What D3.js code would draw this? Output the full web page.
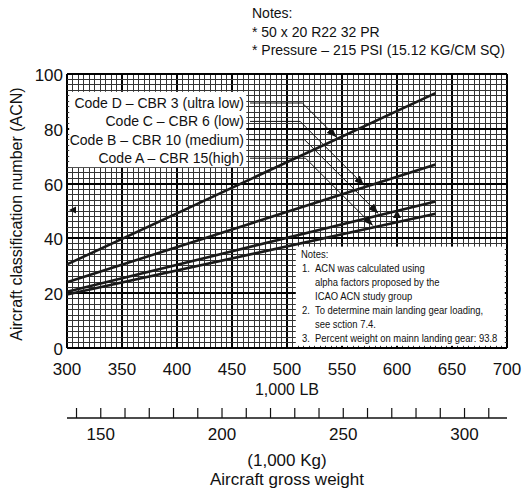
<!DOCTYPE html>
<html>
<head>
<meta charset="utf-8">
<script src="https://cdn.jsdelivr.net/npm/d3@7"></script>
<style>
  html, body { margin: 0; padding: 0; background: #fff; }
  svg { display: block; font-family: "Liberation Sans", Arial, sans-serif; }
</style>
</head>
<body>
<div id="chart"></div>
<script>
(function() {
    'use strict';

    // ---- data ----
    var weightLb = [300, 635];
    var acnCodeA = [19.5, 49];
    var acnCodeB = [20.5, 53.5];
    var acnCodeC = [24, 67];
    var acnCodeD = [30.5, 93];

    var lbTicks = [300, 350, 400, 450, 500, 550, 600, 650, 700];
    var acnTicks = [0, 20, 40, 60, 80, 100];
    var kgTicks = [140, 150, 160, 170, 180, 190, 200, 210, 220, 230, 240, 250, 260, 270, 280, 290, 300, 310];
    var kgLabels = [150, 200, 250, 300];

    var legendLabels = [
        'Code D \u2013 CBR 3 (ultra low)',
        'Code C \u2013 CBR 6 (low)',
        'Code B \u2013 CBR 10 (medium)',
        'Code A \u2013 CBR 15(high)'
    ];
    var legendTargetLb = [545, 570, 583, 578];

    var topNotes = ['Notes:', '* 50 x 20 R22 32 PR', '* Pressure \u2013 215 PSI (15.12 KG/CM SQ)'];
    var boxNotes = [
        ['', 'Notes:'],
        ['1.', 'ACN was calculated using'],
        ['', 'alpha factors proposed by the'],
        ['', 'ICAO ACN study group'],
        ['2.', 'To determine main landing gear loading,'],
        ['', 'see sction 7.4.'],
        ['3.', 'Percent weight on mainn landing gear: 93.8']
    ];

    var series = [
        { id: 'D', values: acnCodeD },
        { id: 'C', values: acnCodeC },
        { id: 'B', values: acnCodeB },
        { id: 'A', values: acnCodeA }
    ];

    var LB_PER_KG = 2.20462;

    // ---- layout ----
    var width = 522, height = 490;
    var area = { left: 67, right: 507, top: 74, bottom: 348 };

    var x = d3.scaleLinear().domain([300, 700]).range([area.left, area.right]);
    var y = d3.scaleLinear().domain([0, 100]).range([area.bottom, area.top]);

    var svg = d3.select('#chart').append('svg')
      .attr('width', width)
      .attr('height', height);

    var defs = svg.append('defs');
    defs.append('marker')
      .attr('id', 'arrow')
      .attr('viewBox', '0 0 10 8')
      .attr('refX', 10)
      .attr('refY', 4)
      .attr('markerWidth', 10)
      .attr('markerHeight', 8)
      .attr('markerUnits', 'userSpaceOnUse')
      .attr('orient', 'auto')
    .append('path')
      .attr('d', 'M0,0 L10,4 L0,8 Z')
      .attr('fill', '#111');

    // grid
    var grid = svg.append('g').attr('shape-rendering', 'crispEdges');

    grid.selectAll('line.v')
      .data(d3.range(300, 701, 5))
      .enter().append('line')
        .attr('x1', function(d) { return x(d); })
        .attr('x2', function(d) { return x(d); })
        .attr('y1', area.top)
        .attr('y2', area.bottom)
        .attr('stroke', function(d) { return d % 50 === 0 ? '#000' : '#333'; })
        .attr('stroke-width', function(d) { return d % 50 === 0 ? 2 : 1; });

    grid.selectAll('line.h')
      .data(d3.range(0, 101, 2))
      .enter().append('line')
        .attr('x1', area.left)
        .attr('x2', area.right)
        .attr('y1', function(d) { return y(d); })
        .attr('y2', function(d) { return y(d); })
        .attr('stroke', function(d) { return d % 20 === 0 ? '#000' : '#333'; })
        .attr('stroke-width', function(d) { return d % 20 === 0 ? 2 : 1; });

    // white boxes over the grid (grid stubs remain at the edges)
    svg.append('rect')
      .attr('x', x(302)).attr('y', y(93.5))
      .attr('width', x(463) - x(302)).attr('height', y(66) - y(93.5))
      .attr('fill', '#fff');

    svg.append('rect')
      .attr('x', x(508)).attr('y', y(37))
      .attr('width', x(698) - x(508)).attr('height', y(0.8) - y(37))
      .attr('fill', '#fff');

    // series lines
    var lineGen = d3.line()
      .x(function(d, i) { return x(weightLb[i]); })
      .y(function(d) { return y(d); });

    svg.append('g').selectAll('path')
      .data(series)
      .enter().append('path')
        .attr('d', function(d) { return lineGen(d.values); })
        .attr('fill', 'none')
        .attr('stroke', '#1a1a1a')
        .attr('stroke-width', 2.6);

    // legend labels with leader arrows
    var valueAt = function(s, lb) {
        var t = (lb - weightLb[0]) / (weightLb[1] - weightLb[0]);
        return s.values[0] + t * (s.values[1] - s.values[0]);
    };

    var legend = svg.append('g');
    legendLabels.forEach(function(label, i) {
        var base = 108 + i * 18.4;
        var ly = base - 5;
        legend.append('text')
          .attr('x', 244)
          .attr('y', base)
          .attr('text-anchor', 'end')
          .attr('font-size', 14)
          .attr('fill', '#111')
          .text(label);

        var tx = x(legendTargetLb[i]);
        var ty = y(valueAt(series[i], legendTargetLb[i])) - 2;
        var kx = tx - (ty - ly);
        legend.append('path')
          .attr('d', 'M250,' + ly + ' L' + kx + ',' + ly + ' L' + tx + ',' + ty)
          .attr('fill', 'none')
          .attr('stroke', '#111')
          .attr('stroke-width', 1)
          .attr('marker-end', 'url(#arrow)');
    });

    // small pointer marks
    var lx = x(300) + 2, lyA = y(50.4);
    svg.append('path')
      .attr('d', 'M' + lx + ',' + lyA + ' l7,-3.5 l0,7 Z')
      .attr('fill', '#111');
    var ux = x(600), uy = y(50.4);
    svg.append('path')
      .attr('d', 'M' + ux + ',' + uy + ' l-4,8 l8,0 Z')
      .attr('fill', '#111');

    // axis labels
    svg.append('g').selectAll('text')
      .data(acnTicks)
      .enter().append('text')
        .attr('x', 63)
        .attr('y', function(d) { return y(d) + 7; })
        .attr('text-anchor', 'end')
        .attr('font-size', 17)
        .attr('fill', '#111')
        .text(function(d) { return d; });

    svg.append('g').selectAll('text')
      .data(lbTicks)
      .enter().append('text')
        .attr('x', function(d) { return x(d); })
        .attr('y', 375)
        .attr('text-anchor', 'middle')
        .attr('font-size', 17)
        .attr('fill', '#111')
        .text(function(d) { return d; });

    svg.append('text')
      .attr('x', x(500)).attr('y', 394.5)
      .attr('text-anchor', 'middle')
      .attr('font-size', 16)
      .attr('fill', '#111')
      .text('1,000 LB');

    svg.append('text')
      .attr('transform', 'translate(22,214) rotate(-90)')
      .attr('text-anchor', 'middle')
      .attr('font-size', 16)
      .attr('fill', '#111')
      .text('Aircraft classification number (ACN)');

    // kg axis
    var kgY = 418;
    var kg = svg.append('g');
    kg.append('line')
      .attr('x1', area.left).attr('x2', area.right)
      .attr('y1', kgY).attr('y2', kgY)
      .attr('stroke', '#111').attr('stroke-width', 1.3);
    kg.selectAll('line.tick')
      .data(kgTicks)
      .enter().append('line')
        .attr('x1', function(d) { return x(d * LB_PER_KG); })
        .attr('x2', function(d) { return x(d * LB_PER_KG); })
        .attr('y1', kgY - 10)
        .attr('y2', kgY)
        .attr('stroke', '#111')
        .attr('stroke-width', 1.2);
    kg.selectAll('text')
      .data(kgLabels)
      .enter().append('text')
        .attr('x', function(d) { return x(d * LB_PER_KG); })
        .attr('y', 440)
        .attr('text-anchor', 'middle')
        .attr('font-size', 17)
        .attr('fill', '#111')
        .text(function(d) { return d; });

    svg.append('text')
      .attr('x', x(500)).attr('y', 466)
      .attr('text-anchor', 'middle')
      .attr('font-size', 17)
      .attr('fill', '#111')
      .text('(1,000 Kg)');

    svg.append('text')
      .attr('x', x(500)).attr('y', 485)
      .attr('text-anchor', 'middle')
      .attr('font-size', 17)
      .attr('fill', '#111')
      .text('Aircraft gross weight');

    // top notes
    svg.append('g').selectAll('text')
      .data(topNotes)
      .enter().append('text')
        .attr('x', 252)
        .attr('y', function(d, i) { return 18 + i * 18.5; })
        .attr('font-size', 14)
        .attr('fill', '#111')
        .text(function(d) { return d; });

    // boxed notes (condensed)
    var nb = svg.append('g');
    boxNotes.forEach(function(row, i) {
        var by = 258 + i * 14;
        if (row[0]) {
            nb.append('text')
              .attr('transform', 'translate(302,' + by + ') scale(0.86,1)')
              .attr('font-size', 11)
              .attr('fill', '#111')
              .text(row[0]);
        }
        nb.append('text')
          .attr('transform', 'translate(' + (i > 0 ? 315 : 301) + ',' + by + ') scale(0.86,1)')
          .attr('font-size', 11)
          .attr('fill', '#111')
          .text(row[1]);
    });

})();
</script>
</body>
</html>
